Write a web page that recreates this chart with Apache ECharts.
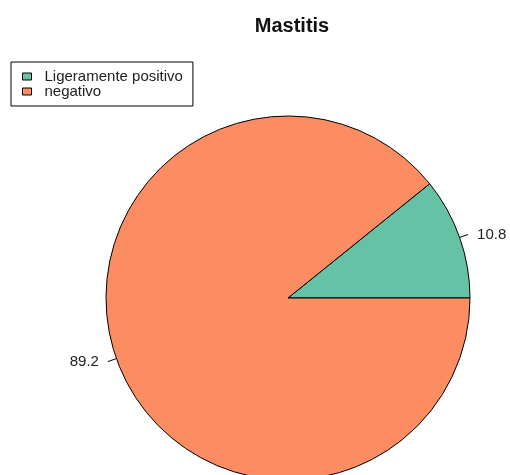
<!DOCTYPE html>
<html>
<head>
<meta charset="utf-8">
<script src="https://cdn.jsdelivr.net/npm/echarts@6/dist/echarts.min.js"></script>
<style>
  html, body { margin: 0; padding: 0; background: #fff; }
  #chart { width: 510px; height: 475px; }
</style>
</head>
<body>
<div id="chart"></div>
<script>
const categories = ['Ligeramente positivo', 'negativo']
const values = [10.8, 89.2]
const colors = ['#66C2A5', '#FC8D62']

const chart = echarts.init(document.getElementById('chart'))

const optionData = {
  animation: false,
  backgroundColor: '#fff',
  title: {
    text: 'Mastitis',
    left: 287,
    textAlign: 'center',
    top: 11,
    textStyle: {
      fontFamily: 'Liberation Sans, Arial, sans-serif',
      fontSize: 20,
      fontWeight: 'bold',
      color: '#111'
    }
  },
  legend: {
    orient: 'vertical',
    left: 11,
    top: 62,
    padding: [7, 10, 7, 11],
    borderColor: '#000',
    borderWidth: 1,
    borderRadius: 0,
    itemGap: 0,
    itemWidth: 9,
    itemHeight: 7,
    icon: 'rect',
    selectedMode: false,
    itemStyle: { borderColor: '#000', borderWidth: 1 },
    textStyle: {
      fontFamily: 'Liberation Sans, Arial, sans-serif',
      fontSize: 15,
      lineHeight: 15,
      color: '#222',
      padding: [0, 0, 0, 8]
    },
    data: categories
  },
  series: [{
    type: 'pie',
    center: [288, 298],
    radius: [0, 182],
    startAngle: 0,
    clockwise: false,
    avoidLabelOverlap: false,
    itemStyle: { borderColor: '#000', borderWidth: 1 },
    label: {
      show: true,
      position: 'outside',
      formatter: '{c}',
      fontFamily: 'Liberation Sans, Arial, sans-serif',
      fontSize: 15,
      color: '#222',
      distanceToLabelLine: 9
    },
    labelLine: {
      show: true,
      length: 9,
      length2: 0,
      lineStyle: { color: '#000', width: 1 }
    },
    emphasis: { disabled: true },
    data: categories.map((name, i) => ({
      name: name,
      value: values[i],
      itemStyle: { color: colors[i] }
    }))
  }]
}

chart.setOption(optionData, true)
</script>
</body>
</html>
